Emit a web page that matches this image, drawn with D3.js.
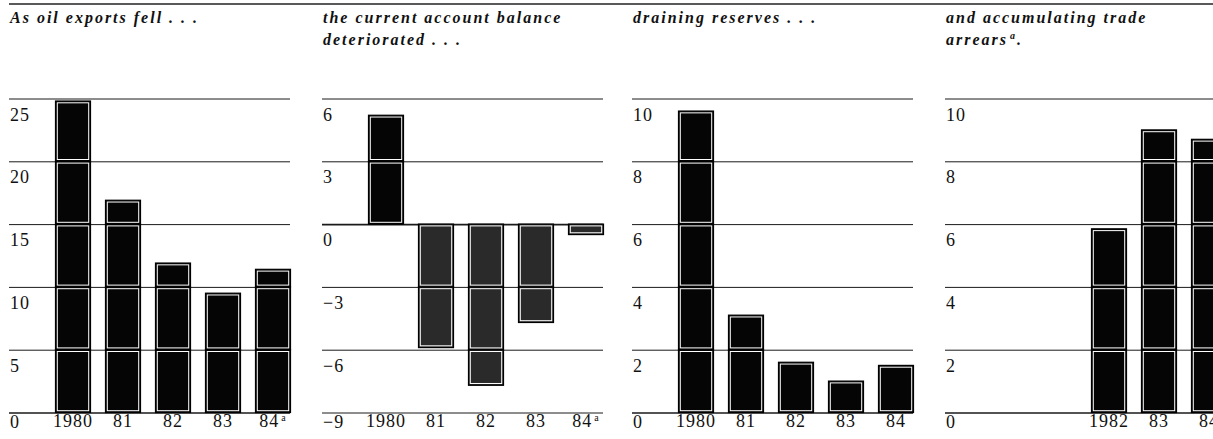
<!DOCTYPE html>
<html>
<head>
<meta charset="utf-8">
<script src="https://cdn.jsdelivr.net/npm/d3@7/dist/d3.min.js"></script>
<style>
  html, body { margin: 0; padding: 0; background: #fff; }
  svg { display: block; }
  .title { font-family: "Liberation Serif", "Times New Roman", serif; font-weight: bold; font-style: italic; font-size: 16px; letter-spacing: 2px; fill: #111; }
  .tick text { font-family: "Liberation Serif", "Times New Roman", serif; font-size: 18px; letter-spacing: 1px; fill: #111; }
</style>
</head>
<body>
<script>
// ---- data ----
const categories = ["1980", "81", "82", "83", "84"];
const categoryLabels1 = ["1980", "81", "82", "83", "84a"];
const categoryLabels2 = ["1980", "81", "82", "83", "84a"];
const categoryLabels3 = ["1980", "81", "82", "83", "84"];
const categoryLabels4 = ["", "", "1982", "83", "84"];

const oilExports = [24.8, 16.9, 11.9, 9.5, 11.4];
const currentAccount = [5.2, -5.9, -7.7, -4.7, -0.5];
const reserves = [9.6, 3.1, 1.6, 1.0, 1.5];
const tradeArrears = [null, null, 5.85, 9.0, 8.7];

const ticks1 = [0, 5, 10, 15, 20, 25];
const ticks2 = [-9, -6, -3, 0, 3, 6];
const ticks3 = [0, 2, 4, 6, 8, 10];
const ticks4 = [0, 2, 4, 6, 8, 10];

const titles1 = ["As oil exports fell . . ."];
const titles2 = ["the current account balance", "deteriorated . . ."];
const titles3 = ["draining reserves . . ."];
const titles4 = ["and accumulating trade", "arrears|a|."];

// ---- layout ----
const W = 1213, H = 439;
const yTop = 98.5, yBot = 412.5;
const panelW = 281;

const panels = [
  { x: 9,   values: oilExports,     ticks: ticks1, labels: categoryLabels1, title: titles1 },
  { x: 322, values: currentAccount, ticks: ticks2, labels: categoryLabels2, title: titles2 },
  { x: 632, values: reserves,       ticks: ticks3, labels: categoryLabels3, title: titles3 },
  { x: 945, values: tradeArrears,   ticks: ticks4, labels: categoryLabels4, title: titles4 }
];

const svg = d3.select("body").append("svg").attr("width", W).attr("height", H);

// top rule
svg.append("line").attr("x1", 9).attr("x2", W).attr("y1", 4).attr("y2", 4)
  .attr("stroke", "#222").attr("stroke-width", 1.5);

const fmt = v => v < 0 ? "\u2212" + Math.abs(v) : String(v);

panels.forEach((p, pi) => {
  const g = svg.append("g").attr("transform", `translate(${p.x},0)`);
  const y = d3.scaleLinear().domain([d3.min(p.ticks), d3.max(p.ticks)]).range([yBot, yTop]);
  const x = d3.scaleBand().domain(categories).range([39, 289]).paddingInner(0.3).paddingOuter(0.15);
  const dmin = d3.min(p.ticks);

  // title
  const t = g.append("text").attr("class", "title").attr("x", 1).attr("y", 23);
  p.title.forEach((line, li) => {
    const parts = line.split("|");
    if (parts.length === 1) {
      t.append("tspan").attr("x", 1).attr("y", 23 + li * 22).text(line);
    } else {
      t.append("tspan").attr("x", 1).attr("y", 23 + li * 22).text(parts[0]);
      t.append("tspan").attr("dx", 2).attr("dy", -6).attr("font-size", "10px").text(parts[1]);
      t.append("tspan").attr("dy", 6).text(parts[2]);
    }
  });

  // y axis (gridlines + labels below the lines)
  const ya = g.append("g").call(d3.axisLeft(y).tickValues(p.ticks).tickSize(-panelW).tickFormat(fmt));
  ya.select(".domain").remove();
  ya.selectAll(".tick line").attr("stroke", "#1a1a1a")
    .attr("stroke-width", d => d === 0 ? 1.6 : 1);
  ya.selectAll(".tick text").attr("x", 1).attr("dy", 0)
    .attr("text-anchor", "start")
    .attr("y", d => d === dmin ? 14.5 : 21.5);

  // bottom category labels
  const xa = g.append("g").attr("transform", `translate(0,${yBot})`)
    .call(d3.axisBottom(x).tickSize(0).tickFormat((d, i) => ""));
  xa.select(".domain").remove();
  xa.selectAll(".tick text").attr("y", 14.5).attr("dy", 0).each(function(d, i) {
    const lab = p.labels[i];
    const el = d3.select(this);
    if (lab.endsWith("a")) {
      el.append("tspan").text(lab.slice(0, -1));
      el.append("tspan").attr("font-size", "10px").attr("dx", 2).attr("dy", -6).text("a");
    } else {
      el.text(lab);
    }
  });

  // bars: segmented at gridlines, black outline, white inner rule, dark fill
  const bars = g.append("g");
  p.values.forEach((v, i) => {
    if (v === null || v === undefined) return;
    const lo = Math.min(0, v), hi = Math.max(0, v);
    const bounds = [lo, ...p.ticks.filter(tk => tk > lo && tk < hi), hi].sort((a, b) => a - b);
    const fill = v < 0 ? "#2a2a2a" : "#050505";
    for (let k = 0; k < bounds.length - 1; k++) {
      const y0 = y(bounds[k + 1]), y1 = y(bounds[k]);
      const bx = x(categories[i]), bw = x.bandwidth();
      bars.append("rect").attr("x", bx).attr("y", y0).attr("width", bw).attr("height", y1 - y0)
        .attr("fill", fill).attr("stroke", "#000").attr("stroke-width", 1.2);
      bars.append("rect").attr("x", bx + 1.8).attr("y", y0 + 1.8)
        .attr("width", Math.max(0, bw - 3.6)).attr("height", Math.max(0, y1 - y0 - 3.6))
        .attr("fill", "none").attr("stroke", "#fff").attr("stroke-width", 1);
    }
  });
});
</script>
</body>
</html>
